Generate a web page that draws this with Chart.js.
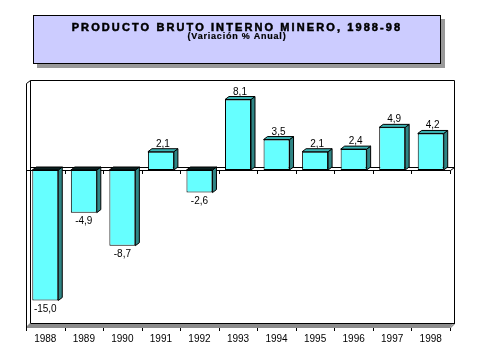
<!DOCTYPE html>
<html><head><meta charset="utf-8">
<script src="https://cdn.jsdelivr.net/npm/chart.js@4/dist/chart.umd.min.js"></script>
<style>
html,body{margin:0;padding:0;background:#fff;}
#wrap{position:relative;width:478px;height:358px;overflow:hidden;}
#c{position:absolute;left:0;top:0;}
#tbox{position:absolute;left:33px;top:15px;width:406px;height:47px;background:#ccccff;border:1px solid #000;box-shadow:4px 4px 0 #999999;font-family:"Liberation Sans",Arial,sans-serif;text-align:center;color:#000;}
#t1{font-weight:bold;font-size:11px;letter-spacing:2.1px;position:absolute;left:0;right:0;top:5px;white-space:nowrap;-webkit-text-stroke:0.5px #000;}
#t2{font-weight:bold;font-size:9px;letter-spacing:0.8px;position:absolute;left:0;right:0;top:15px;white-space:nowrap;-webkit-text-stroke:0.2px #000;}
</style>
</head><body>
<div id="wrap">
<canvas id="c" width="478" height="358"></canvas>
<div id="tbox"><div id="t1"></div><div id="t2"></div></div>
</div>
<script>
const titleText = 'PRODUCTO BRUTO INTERNO MINERO, 1988-98';
const subtitleText = '(Variación % Anual)';
const categories = ['1988','1989','1990','1991','1992','1993','1994','1995','1996','1997','1998'];
const values = [-15.0, -4.9, -8.7, 2.1, -2.6, 8.1, 3.5, 2.1, 2.4, 4.9, 4.2];

document.getElementById('t1').textContent = titleText;
document.getElementById('t2').textContent = subtitleText;

const DX = 4, DY = -3;
const FONT = '"Liberation Sans", Arial, sans-serif';

function fmt(v){ return v.toFixed(1).replace('.', ','); }

const frame3d = {
  id: 'frame3d',
  beforeDatasetsDraw(chart){
    const ctx = chart.ctx, ca = chart.chartArea;
    const xs = chart.scales.x, ys = chart.scales.y;
    const L = Math.round(ca.left), R = Math.round(ca.right), T = Math.round(ca.top), B = Math.round(ca.bottom);
    const y0 = Math.round(ys.getPixelForValue(0));
    ctx.save();
    ctx.lineWidth = 1;
    ctx.strokeStyle = '#000';
    // floor
    ctx.fillStyle = '#8c8c8c';
    ctx.beginPath();
    ctx.moveTo(L, B+1); ctx.lineTo(R, B+1); ctx.lineTo(R+DX, B+DY); ctx.lineTo(R+DX+1, B+DY); ctx.lineTo(R+DX+1, B+DY+1); ctx.lineTo(R+1, B+2); ctx.lineTo(L, B+2); ctx.closePath();
    ctx.fill();
    ctx.beginPath();
    ctx.moveTo(L, B+1); ctx.lineTo(R, B+1); ctx.lineTo(R+DX, B+DY); ctx.lineTo(L+DX, B+DY); ctx.closePath();
    ctx.fill();
    ctx.beginPath();
    ctx.moveTo(L+DX+0.5, B+DY+0.5); ctx.lineTo(R+DX+0.5, B+DY+0.5);
    ctx.stroke();
    // back wall & left wall
    ctx.beginPath();
    ctx.moveTo(L+DX+0.5, B+DY); ctx.lineTo(L+DX+0.5, T+DY+0.5); ctx.lineTo(R+DX+0.5, T+DY+0.5); ctx.lineTo(R+DX+0.5, B+DY+1);
    ctx.moveTo(L+0.5, B+2); ctx.lineTo(L+0.5, T+0.5); ctx.lineTo(L+DX+0.5, T+DY+0.5);
    ctx.stroke();
    // zero plane
    ctx.beginPath();
    ctx.moveTo(L+0.5, y0+0.5); ctx.lineTo(R+0.5, y0+0.5); ctx.lineTo(R+DX+0.5, y0+DY+0.5);
    ctx.moveTo(L+DX+0.5, y0+DY+0.5); ctx.lineTo(R+DX+0.5, y0+DY+0.5);
    ctx.stroke();
    // tick marks at category boundaries
    const n = categories.length;
    const step = (xs.getPixelForValue(n-1) - xs.getPixelForValue(0)) / (n-1);
    ctx.beginPath();
    for (let k = 0; k <= n; k++) {
      const x = Math.round(xs.getPixelForValue(0) - step/2 + k*step) + 0.5;
      ctx.moveTo(x, y0+0.5); ctx.lineTo(x, y0+4);
      ctx.moveTo(x, B+2); ctx.lineTo(x, B+5);
    }
    ctx.stroke();
    ctx.restore();
  },
  afterDatasetsDraw(chart){
    const ctx = chart.ctx;
    const meta = chart.getDatasetMeta(0);
    ctx.save();
    ctx.lineWidth = 1;
    ctx.strokeStyle = '#000';
    meta.data.forEach((bar, i) => {
      const v = values[i];
      const left = bar.x - bar.width/2, right = bar.x + bar.width/2;
      const top = Math.min(bar.y, bar.base), bottom = Math.max(bar.y, bar.base);
      // side face
      ctx.fillStyle = '#2f8585';
      ctx.beginPath();
      ctx.moveTo(right, top); ctx.lineTo(right+DX, top+DY); ctx.lineTo(right+DX, bottom+DY); ctx.lineTo(right, bottom); ctx.closePath();
      ctx.fill(); ctx.stroke();
      // top face
      ctx.fillStyle = v >= 0 ? '#3ab3b3' : '#0a2020';
      ctx.beginPath();
      ctx.moveTo(left, top); ctx.lineTo(left+DX, top+DY); ctx.lineTo(right+DX, top+DY); ctx.lineTo(right, top); ctx.closePath();
      ctx.fill(); ctx.stroke();
      // label
      ctx.fillStyle = '#000';
      ctx.font = '10px ' + FONT;
      ctx.textAlign = 'center';
      if (v >= 0) {
        ctx.textBaseline = 'alphabetic';
        ctx.fillText(fmt(v), bar.x + DX/2, top - 5);
      } else {
        ctx.textBaseline = 'top';
        ctx.fillText(fmt(v), bar.x, bottom + 4);
      }
    });
    ctx.restore();
  }
};

new Chart(document.getElementById('c'), {
  type: 'bar',
  data: {
    labels: categories,
    datasets: [{
      data: values,
      backgroundColor: '#66ffff',
      borderColor: '#000',
      borderWidth: 1,
      borderSkipped: false,
      barPercentage: 0.674,
      categoryPercentage: 1
    }]
  },
  options: {
    responsive: false,
    animation: false,
    devicePixelRatio: 1,
    layout: { padding: { left: 26, right: 28, top: 83, bottom: 6 } },
    plugins: { legend: { display: false }, tooltip: { enabled: false }, title: { display: false } },
    scales: {
      x: {
        grid: { display: false, drawTicks: false },
        border: { display: false },
        ticks: { padding: 7, color: '#000', font: { family: FONT, size: 10 } }
      },
      y: { display: false, min: -17.93, max: 10 }
    }
  },
  plugins: [frame3d]
});
</script>
</body></html>
